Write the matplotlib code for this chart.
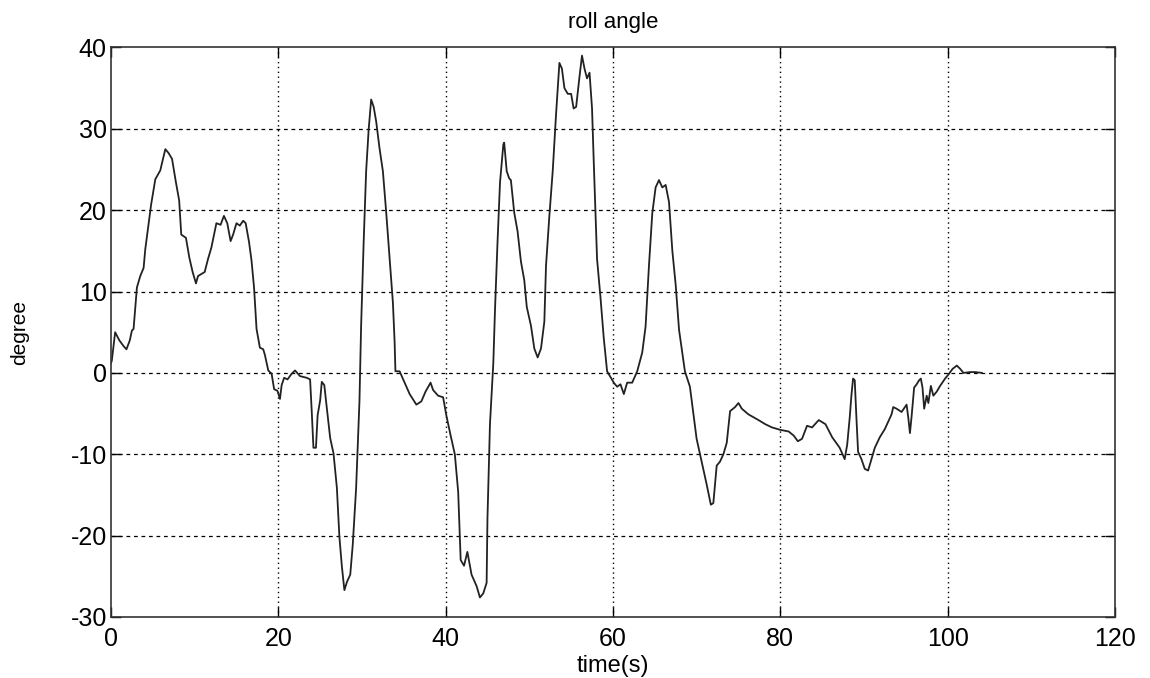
import matplotlib
matplotlib.use("Agg")
import matplotlib.pyplot as plt

plt.rcParams['font.family'] = ['Liberation Sans', 'DejaVu Sans']
plt.rcParams['axes.unicode_minus'] = False

# roll angle trace (time in s, angle in degree)
t = [0.0, 0.1, 0.5, 1.0, 1.5, 1.85, 2.25, 2.5, 2.7, 2.9, 3.1, 3.5, 3.9, 4.1, 4.5, 4.8,
     5.3, 5.9, 6.1, 6.5, 6.9, 7.3, 7.75, 8.15, 8.4, 8.96, 9.36, 9.76, 10.16, 10.4,
     11.2, 11.6, 12.0, 12.6, 13.1, 13.5, 13.9, 14.3, 14.6, 15.0, 15.4, 15.8, 16.1,
     16.5, 16.8, 17.1, 17.4, 17.8, 18.2, 18.4, 18.8, 19.2, 19.5, 19.9, 20.2, 20.4,
     20.7, 21.1, 21.6, 22.0, 22.6, 23.4, 23.8, 24.0, 24.2, 24.5, 24.7, 25.0, 25.2,
     25.5, 25.7, 26.2, 26.6, 27.0, 27.3, 27.6, 27.9, 28.2, 28.6, 28.9, 29.3, 29.7,
     29.9, 30.2, 30.5, 30.8, 31.1, 31.4, 31.7, 32.1, 32.5, 32.9, 33.3, 33.7, 33.9,
     34.0, 34.5, 35.1, 35.7, 36.5, 37.1, 37.6, 38.2, 38.5, 39.1, 39.7, 40.1, 40.6,
     41.1, 41.5, 41.8, 42.2, 42.6, 43.1, 43.7, 44.1, 44.5, 44.9, 45.0, 45.3, 45.7,
     45.9, 46.2, 46.5, 46.9, 47.0, 47.3, 47.6, 47.8, 48.2, 48.6, 49.0, 49.4, 49.7,
     50.2, 50.6, 51.0, 51.4, 51.8, 52.0, 52.4, 52.8, 53.2, 53.6, 53.9, 54.2, 54.6,
     55.0, 55.3, 55.6, 56.0, 56.3, 56.6, 56.9, 57.2, 57.5, 57.7, 58.1, 58.5, 58.9,
     59.3, 59.7, 60.1, 60.5, 60.9, 61.3, 61.7, 62.3, 62.9, 63.5, 63.9, 64.3, 64.7,
     65.1, 65.5, 65.9, 66.3, 66.7, 67.1, 67.5, 67.9, 68.6, 69.2, 69.6, 70.0, 70.6,
     71.2, 71.7, 72.0, 72.4, 72.8, 73.2, 73.6, 74.0, 74.6, 75.0, 75.4, 76.2, 77.4,
     78.2, 79.0, 80.0, 81.0, 81.6, 82.1, 82.6, 83.2, 83.8, 84.6, 85.4, 86.2, 87.1,
     87.7, 88.0, 88.3, 88.5, 88.7, 88.9, 89.1, 89.3, 89.7, 90.1, 90.5, 90.9, 91.3,
     91.9, 92.5, 92.9, 93.3, 93.5, 93.9, 94.5, 95.1, 95.3, 95.5, 95.7, 96.0, 96.3,
     96.6, 96.8, 97.0, 97.2, 97.5, 97.7, 98.0, 98.3, 98.7, 99.1, 99.7, 100.1, 100.6,
     101.1, 101.5, 101.9, 102.7, 103.3, 104.1]
roll = [1.2, 1.5, 5.0, 4.0, 3.3, 2.9, 4.0, 5.2, 5.4, 8.0, 10.5, 11.9, 12.9, 15.2, 18.4, 20.7,
        23.8, 24.9, 25.8, 27.5, 27.0, 26.3, 23.5, 21.2, 17.0, 16.6, 14.2, 12.4, 11.0, 11.9,
        12.4, 14.0, 15.4, 18.4, 18.2, 19.3, 18.4, 16.2, 17.0, 18.4, 18.1, 18.7, 18.4,
        16.1, 13.8, 10.5, 5.4, 3.1, 2.9, 2.2, 0.3, -0.1, -2.0, -2.2, -3.2, -1.5,
        -0.6, -0.8, -0.1, 0.3, -0.4, -0.6, -0.8, -4.8, -9.2, -9.2, -5.2, -3.4, -1.1,
        -1.5, -3.4, -8.0, -9.9, -14.1, -20.1, -23.8, -26.7, -25.7, -24.8, -21.1, -14.2, -3.5,
        5.8, 16.0, 24.8, 29.9, 33.6, 32.7, 30.9, 27.6, 24.8, 19.7, 14.2, 8.6, 3.9,
        0.2, 0.2, -1.2, -2.6, -3.9, -3.5, -2.3, -1.2, -2.1, -2.8, -3.0, -5.3, -7.7,
        -10.0, -14.6, -23.0, -23.7, -22.0, -24.8, -26.2, -27.6, -27.1, -25.8, -17.9, -6.3, 1.2,
        7.7, 16.0, 23.4, 28.1, 28.3, 24.8, 23.9, 23.7, 19.7, 17.4, 13.7, 11.4, 8.1,
        5.8, 3.0, 1.9, 3.0, 6.3, 13.2, 19.3, 24.8, 31.8, 38.1, 37.4, 35.0, 34.3,
        34.3, 32.5, 32.7, 36.4, 39.0, 37.4, 36.2, 36.9, 32.5, 26.1, 14.0, 9.4, 4.3,
        0.2, -0.5, -1.2, -1.7, -1.4, -2.6, -1.2, -1.2, 0.2, 2.5, 5.7, 13.1, 19.6,
        22.8, 23.7, 22.8, 23.1, 21.0, 15.0, 10.8, 5.3, 0.2, -1.7, -4.9, -8.1, -10.9,
        -13.7, -16.2, -16.0, -11.4, -10.9, -10.0, -8.6, -4.7, -4.2, -3.7, -4.4, -5.1, -5.8,
        -6.3, -6.7, -7.0, -7.2, -7.7, -8.4, -8.1, -6.5, -6.7, -5.8, -6.3, -7.9, -9.2,
        -10.6, -8.8, -5.5, -2.8, -0.7, -0.9, -5.5, -9.7, -10.6, -11.8, -12.0, -10.6, -9.2,
        -7.9, -6.9, -6.0, -5.1, -4.2, -4.4, -4.8, -3.9, -5.5, -7.4, -5.3, -1.8, -1.4,
        -0.9, -0.7, -1.8, -4.4, -2.8, -3.7, -1.6, -2.8, -2.3, -1.6, -0.7, -0.2, 0.5,
        0.9, 0.5, 0.0, 0.1, 0.1, 0.0]

xticks = [0, 20, 40, 60, 80, 100, 120]
yticks = [-30, -20, -10, 0, 10, 20, 30, 40]

fig = plt.figure(figsize=(11.5, 6.78), dpi=100)
ax = fig.add_axes([0.0965, 0.09, 0.873, 0.84])

ax.plot(t, roll, color='#222222', lw=1.3)

ax.set_xlim(0, 120)
ax.set_ylim(-30, 40)
ax.set_xticks(xticks)
ax.set_yticks(yticks)
ax.tick_params(direction='in', labelsize=18, length=7, width=1,
               top=True, right=True)
ax.tick_params(axis='x', pad=7)
ax.tick_params(axis='y', pad=3)

# matlab style grid: dotted verticals, short dashes horizontally
for x in xticks[1:-1]:
    ax.axvline(x, color='black', lw=1.0, ls=(0, (1, 2.5)), zorder=0)
for y in yticks[1:-1]:
    ax.axhline(y, color='black', lw=0.9, ls=(0, (3, 3)), zorder=0)

for s in ax.spines.values():
    s.set_linewidth(1.2)
    s.set_color('#333333')

ax.set_title('roll angle', fontsize=16, pad=14)
ax.set_xlabel('time(s)', fontsize=17, labelpad=3)
ax.set_ylabel('degree', fontsize=15, labelpad=30)

fig.savefig('out.png', dpi=100)
